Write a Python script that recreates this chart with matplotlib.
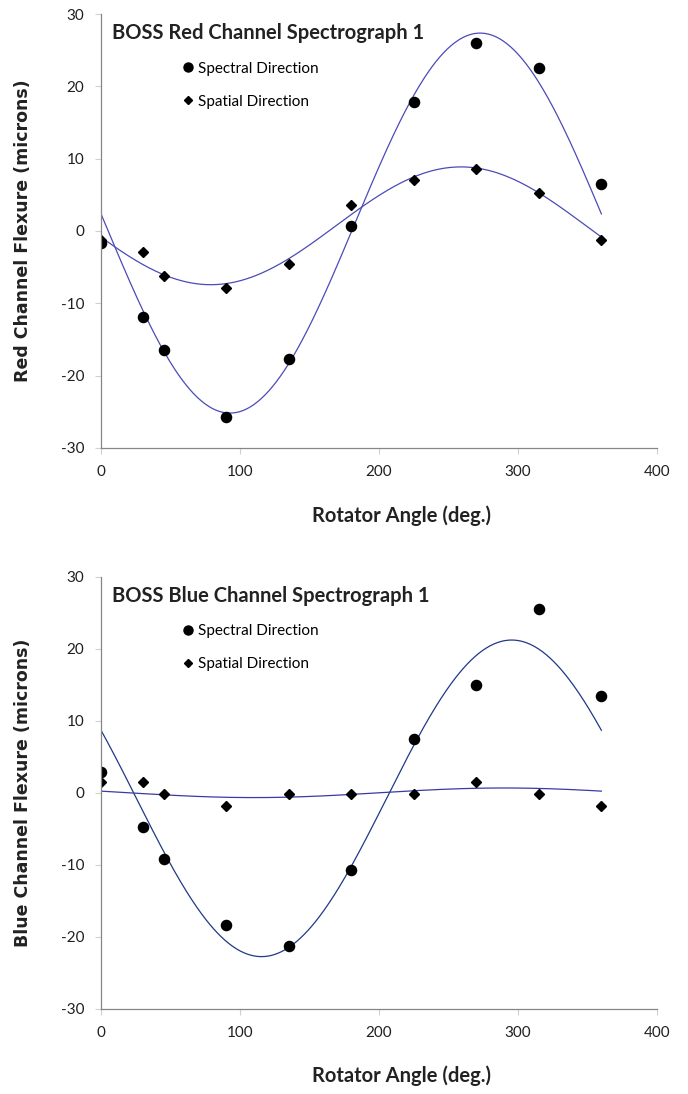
import numpy as np
import matplotlib
matplotlib.use("Agg")
import matplotlib.pyplot as plt
from matplotlib.lines import Line2D

plt.rcParams['axes.unicode_minus'] = False

# rotator angles (deg.)
angle = [0, 30, 45, 90, 135, 180, 225, 270, 315, 360]

# red channel flexure (microns)
red_spectral = [-1.6, -11.9, -16.5, -25.7, -17.7, 0.7, 17.9, 26.0, 22.5, 6.5]
red_spatial = [-1.3, -2.9, -6.2, -7.9, -4.6, 3.6, 7.0, 8.6, 5.3, -1.3]

# blue channel flexure (microns)
blue_spectral = [2.9, -4.7, -9.2, -18.3, -21.3, -10.7, 7.5, 15.0, 25.6, 13.5]
blue_spatial = [1.5, 1.5, -0.1, -1.8, -0.1, -0.1, -0.1, 1.5, -0.1, -1.8]

panels = [
    ("BOSS Red Channel Spectrograph 1", "Red Channel Flexure (microns)",
     red_spectral, red_spatial, "#4b4bb8", "#4b4bb8"),
    ("BOSS Blue Channel Spectrograph 1", "Blue Channel Flexure (microns)",
     blue_spectral, blue_spatial, "#1f3a86", "#3a3aa6"),
]

LAB = "Lato"


def sine_fit(x, y):
    # least squares y = c + a cos(x) + b sin(x)
    x = np.radians(np.asarray(x, float))
    A = np.column_stack([np.ones_like(x), np.cos(x), np.sin(x)])
    coef, *_ = np.linalg.lstsq(A, np.asarray(y, float), rcond=None)
    xs = np.linspace(0, 360, 400)
    r = np.radians(xs)
    return xs, coef[0] + coef[1] * np.cos(r) + coef[2] * np.sin(r)


fig = plt.figure(figsize=(6.88, 10.94), dpi=100)
rects = [[0.1468, 0.5905, 0.8081, 0.3967], [0.1468, 0.0777, 0.8081, 0.3949]]

for rect, (title, ylab, spec, spat, c1, c2) in zip(rects, panels):
    ax = fig.add_axes(rect)
    xs, ys = sine_fit(angle, spec)
    ax.plot(xs, ys, color=c1, lw=0.9)
    xs, ys = sine_fit(angle, spat)
    ax.plot(xs, ys, color=c2, lw=0.9)
    ax.plot(angle, spec, 'o', color='black', ms=7.3, ls='none')
    ax.plot(angle, spat, 'D', color='black', ms=4.6, ls='none')

    ax.set_xlim(0, 400)
    ax.set_ylim(-30, 30)
    ax.set_xticks(range(0, 401, 100))
    ax.set_yticks(range(-30, 31, 10))
    for s in ['top', 'right']:
        ax.spines[s].set_visible(False)
    for s in ['left', 'bottom']:
        ax.spines[s].set_color('#868686')
        ax.spines[s].set_linewidth(0.9)
    ax.tick_params(axis='both', direction='out', length=4, width=0.8,
                   color='#d0d0d0', labelsize=11, labelcolor='#202020')
    ax.tick_params(axis='x', pad=8)
    ax.tick_params(axis='y', pad=8)
    for lbl in ax.get_xticklabels() + ax.get_yticklabels():
        lbl.set_fontfamily(LAB)

    ax.text(0.02, 0.956, title, transform=ax.transAxes, fontsize=14.5,
            fontweight='bold', family=LAB, color='#222222', va='center', ha='left')

    handles = [Line2D([], [], marker='o', color='black', ls='none', ms=6.5),
               Line2D([], [], marker='D', color='black', ls='none', ms=4.5)]
    ax.legend(handles, ["Spectral Direction", "Spatial Direction"],
              loc='upper left', bbox_to_anchor=(0.130, 0.908), frameon=False,
              handlelength=0.9, handletextpad=0.25, labelspacing=1.25,
              borderpad=0, prop={'family': LAB, 'size': 11})

    ax.set_xlabel("Rotator Angle (deg.)", fontsize=14.5, fontweight='bold',
                  family=LAB, color='#222222', va='center')
    ax.xaxis.set_label_coords(0.541, -0.155)
    ax.set_ylabel(ylab, fontsize=12.5, fontweight='bold', family='DejaVu Sans',
                  color='#222222', va='center')
    ax.yaxis.set_label_coords(-0.14, 0.5)

fig.savefig("out.png", dpi=100)
